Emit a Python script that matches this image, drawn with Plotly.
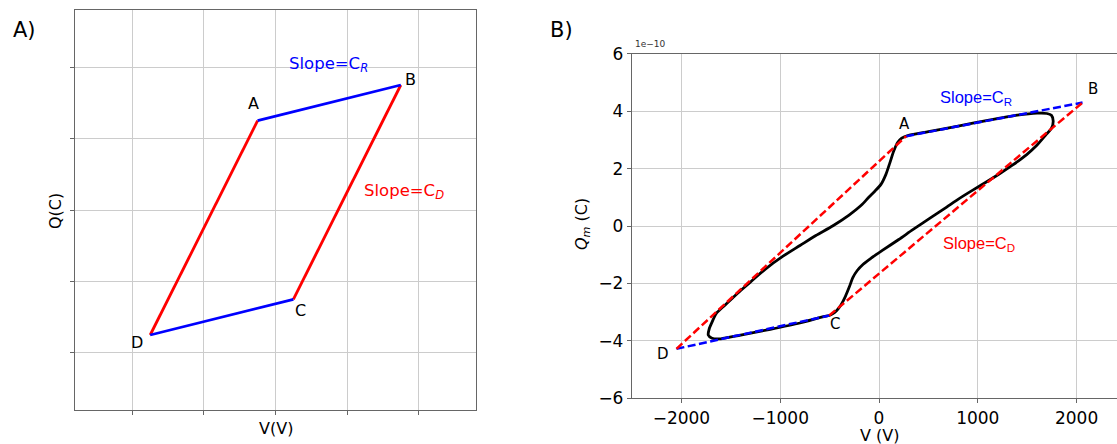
import plotly.graph_objects as go

# ---------------- Panel A: idealised Q-V parallelogram ----------------
ideal_pts = ["A", "B", "C", "D"]
ideal_v = [-0.25, 1.75, 0.25, -1.75]
ideal_q = [1.25, 1.75, -1.25, -1.75]
ideal_grid = [-2, -1, 0, 1, 2]

# ---------------- Panel B: measured charge loop ----------------
# charge in units of 1e-10 C, voltage in V
loop_v = [230, 300, 500, 800, 1100, 1400, 1600, 1700, 1745, 1763, 1745, 1695,
          1600, 1492, 1350, 1220, 1090, 949, 800, 685, 520, 346, 200, 30,
          -80, -160, -220, -265, -300, -340, -385, -430, -470, -504, -560, -800,
          -1100, -1400, -1600, -1690, -1728, -1718, -1690, -1647, -1560, -1479,
          -1400, -1311, -1150, -975, -800, -639, -470, -303, -180, -101, -40, 20,
          70, 110, 150, 190, 230]
loop_q = [3.06, 3.16, 3.29, 3.48, 3.68, 3.86, 3.93, 3.92, 3.86, 3.66, 3.40, 3.20,
          2.82, 2.48, 2.12, 1.82, 1.54, 1.25, 0.93, 0.66, 0.28, -0.12, -0.47, -0.86,
          -1.12, -1.33, -1.55, -1.80, -2.12, -2.45, -2.75, -2.95, -3.06, -3.12, -3.16, -3.38,
          -3.60, -3.80, -3.93, -3.91, -3.80, -3.58, -3.35, -3.05, -2.76, -2.50,
          -2.25, -1.98, -1.50, -1.06, -0.68, -0.33, 0.00, 0.38, 0.72, 1.01, 1.22, 1.45,
          1.80, 2.20, 2.62, 2.92, 3.06]

meas_pts = ["A", "B", "C", "D"]
meas_v = [275, 2060, -504, -2050]
meas_q = [3.13, 4.30, -3.12, -4.28]

v_ticks = [-2000, -1000, 0, 1000, 2000]
q_ticks = [-6, -4, -2, 0, 2, 4, 6]

BLUE = "#0000ff"
RED = "#ff0000"
SPINE = "#666666"
GRID = "#cccccc"
FONT = "DejaVu Sans"
W, H = 1117, 444


def fx(px):
    return px / W


def fy(py):
    return 1 - py / H


def tick_label(v):
    return ("\u2212" + str(abs(v))) if v < 0 else str(v)


fig = go.Figure()
P = dict(zip(ideal_pts, zip(ideal_v, ideal_q)))
M = dict(zip(meas_pts, zip(meas_v, meas_q)))

# Panel A segments: red charging branches, blue plateaus
for a, b, col in [("D", "A", RED), ("C", "B", RED), ("A", "B", BLUE), ("D", "C", BLUE)]:
    fig.add_trace(go.Scatter(x=[P[a][0], P[b][0]], y=[P[a][1], P[b][1]], mode="lines",
                             line=dict(color=col, width=2.8), xaxis="x", yaxis="y",
                             showlegend=False, hoverinfo="skip"))

# Panel B: measured loop, then the fitted dashed lines on top
fig.add_trace(go.Scatter(x=loop_v, y=loop_q, mode="lines",
                         line=dict(color="black", width=2.8, shape="spline", smoothing=0.7),
                         xaxis="x2", yaxis="y2", showlegend=False, hoverinfo="skip"))
for a, b, col in [("A", "B", BLUE), ("D", "C", BLUE), ("D", "A", RED), ("C", "B", RED)]:
    fig.add_trace(go.Scatter(x=[M[a][0], M[b][0]], y=[M[a][1], M[b][1]], mode="lines",
                             line=dict(color=col, width=2.5, dash="8px,3.5px"),
                             xaxis="x2", yaxis="y2", showlegend=False, hoverinfo="skip"))

ann = []


def text(x, y, s, ref, size, color="black", family=FONT, **kw):
    ann.append(dict(x=x, y=y, text=s, xref=ref[0], yref=ref[1], showarrow=False,
                    font=dict(size=size, color=color, family=family),
                    xanchor="center", yanchor="middle", **kw))


# Panel A labels
text(-0.31, 1.49, "A", ("x", "y"), 16)
text(1.89, 1.83, "B", ("x", "y"), 16)
text(0.35, -1.41, "C", ("x", "y"), 16)
text(-1.93, -1.85, "D", ("x", "y"), 16)
text(0.74, 2.04, "Slope=C<sub><i>R</i></sub>", ("x", "y"), 16.5, BLUE)
text(1.80, 0.26, "Slope=C<sub><i>D</i></sub>", ("x", "y"), 16.5, RED)

# Panel B labels
text(253, 3.57, "A", ("x2", "y2"), 15)
text(2162, 4.76, "B", ("x2", "y2"), 15)
text(-445, -3.41, "C", ("x2", "y2"), 15)
text(-2190, -4.46, "D", ("x2", "y2"), 15)
text(977, 4.46, "Slope=C<sub>R</sub>", ("x2", "y2"), 16.5, BLUE, "Liberation Sans")
text(1012, -0.63, "Slope=C<sub>D</sub>", ("x2", "y2"), 16.5, RED, "Liberation Sans")

# Panel letters, axis titles and offset text
text(fx(24), fy(30), "A)", ("paper", "paper"), 21)
text(fx(561), fy(30), "B)", ("paper", "paper"), 21)
text(fx(276), fy(428), "V(V)", ("paper", "paper"), 16)
text(fx(56), fy(211), "Q(C)", ("paper", "paper"), 16, textangle=-90)
text(fx(879), fy(435), "V (V)", ("paper", "paper"), 16)
text(fx(583), fy(224), "<i>Q</i><sub><i>m</i></sub> (C)", ("paper", "paper"), 16, textangle=-90)
ann.append(dict(x=fx(633), y=fy(51), text="1e\u221210", xref="paper", yref="paper",
                showarrow=False, xanchor="left", yanchor="bottom",
                font=dict(size=9, color="#333333", family=FONT)))

axis_common = dict(showline=True, linecolor=SPINE, linewidth=1.3, gridcolor=GRID,
                   gridwidth=1, zeroline=False, ticks="outside", ticklen=4,
                   tickcolor=SPINE, tickwidth=1.1, automargin=False)

fig.update_layout(
    width=W, height=H, autosize=False,
    margin=dict(l=0, r=0, t=0, b=0, pad=0, autoexpand=False),
    paper_bgcolor="white", plot_bgcolor="white",
    font=dict(family=FONT, color="black"),
    xaxis=dict(domain=[fx(75), fx(476)], range=[-2.8, 2.8], tickvals=ideal_grid,
               showticklabels=False, mirror=True, anchor="y", **axis_common),
    yaxis=dict(domain=[fy(410), fy(10)], range=[-2.8, 2.8], tickvals=ideal_grid,
               showticklabels=False, mirror=True, anchor="x", **axis_common),
    xaxis2=dict(domain=[fx(632), 1.0], range=[-2500, -2500 + (W - 632) / 0.0988],
                tickvals=v_ticks, ticktext=[tick_label(v) for v in v_ticks],
                tickfont=dict(size=17, family=FONT, color="black"),
                mirror=True, anchor="y2", **axis_common),
    yaxis2=dict(domain=[fy(398.2), fy(53.8)], range=[-6, 6],
                tickvals=q_ticks, ticktext=[tick_label(v) for v in q_ticks],
                tickfont=dict(size=17, family=FONT, color="black"),
                mirror=False, anchor="x2", **axis_common),
    annotations=ann,
)

fig.write_html("out.html")
